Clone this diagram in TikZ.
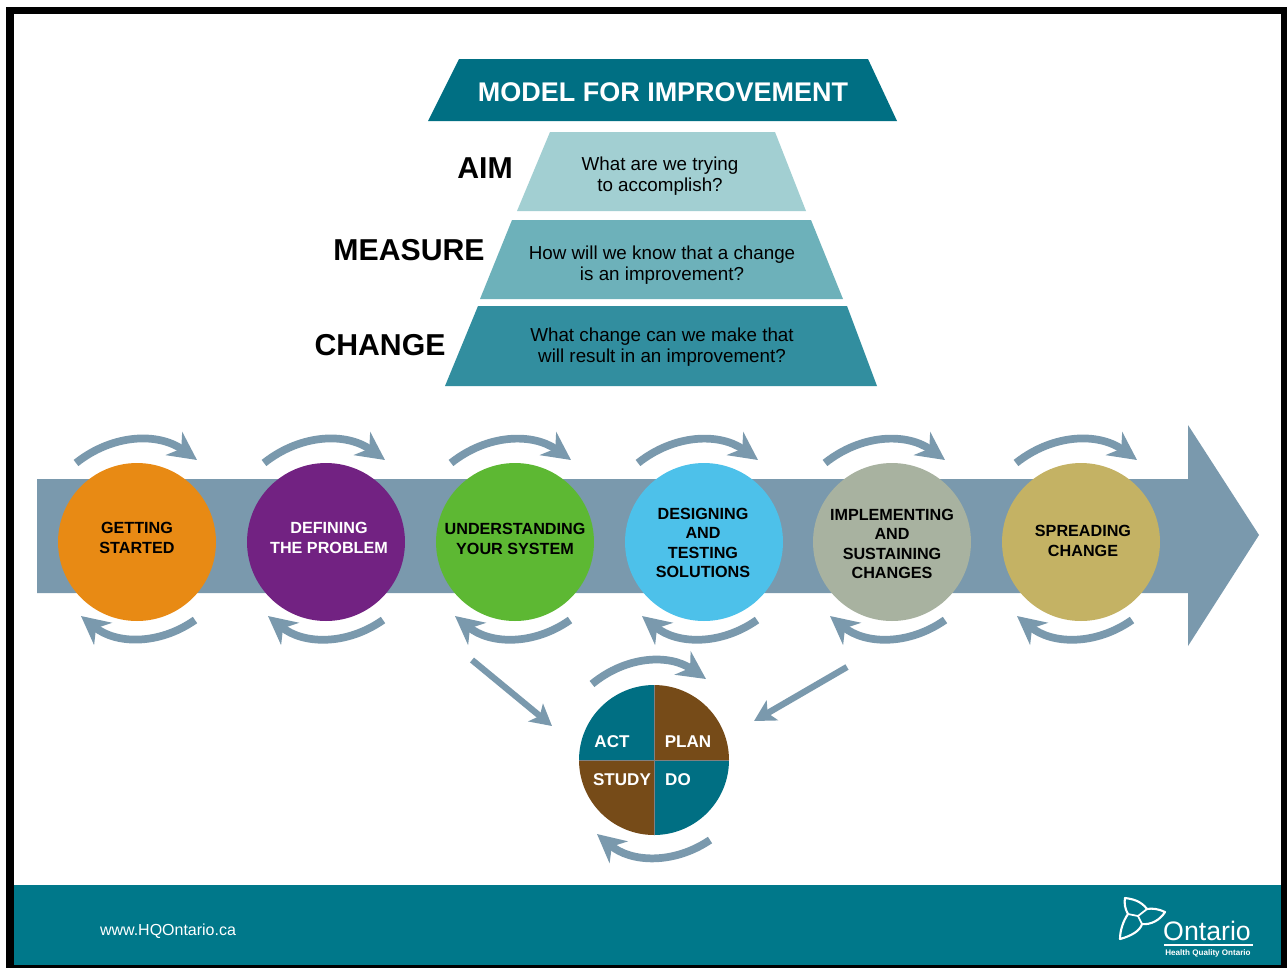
\documentclass[tikz,border=0pt]{standalone}
\usepackage{fontspec}
\setmainfont{Liberation Sans}
\usetikzlibrary{arrows.meta}
\definecolor{teal1}{HTML}{00788A}
\definecolor{teal2}{HTML}{006F83}
\definecolor{aimcol}{HTML}{A2CFD2}
\definecolor{meascol}{HTML}{6DB1BA}
\definecolor{chgcol}{HTML}{328E9F}
\definecolor{slate}{HTML}{7A99AD}
\definecolor{brown1}{HTML}{764B18}
\tikzset{
  turn/.style={slate,line width=4.4pt,-{Stealth[length=16pt,width=16pt,inset=5pt]}},
  point/.style={slate,line width=3.6pt,-{Stealth[length=12pt,width=13pt,inset=3pt]}},
  stage/.style={circle,minimum size=3.16cm,inner sep=0pt,outer sep=0pt},
  stagetext/.style={align=center,font=\fontsize{9.2}{11}\selectfont\bfseries},
  question/.style={align=center,font=\fontsize{10.7}{12}\selectfont,text=black},
  side/.style={font=\fontsize{17.2}{18}\selectfont\bfseries},
  pdsatext/.style={text=white,font=\fontsize{9.7}{12}\selectfont\bfseries}
}
\begin{document}
\begin{tikzpicture}[x=0.02cm,y=-0.02cm]
 \useasboundingbox (0,0) rectangle (1287,968);
 % frame and footer
 \fill[black] (6,7) rectangle (1287,968);
 \fill[white] (14,14) rectangle (1281,885);
 \fill[teal1] (14,885) rectangle (1281,965);
 \node[text=white,font=\fontsize{9.1}{10}\selectfont] (site) at (168,931) {www.HQOntario.ca};
 % pyramid
 \fill[teal2] (428,121)--(897,121)--(868,59)--(459,59)--cycle;
 \fill[aimcol] (517,211)--(806,211)--(775,132)--(550,132)--cycle;
 \fill[meascol] (480,299)--(843,299)--(811,220)--(512,220)--cycle;
 \fill[chgcol] (445,386)--(877,386)--(847,306)--(478,306)--cycle;
 \node[text=white,font=\fontsize{15.35}{18}\selectfont\bfseries] (title) at (663,92) {MODEL FOR IMPROVEMENT};
 \node[question] (aimq) at (660,176) {What are we trying\\to accomplish?};
 \node[question] (measq) at (662,265) {How will we know that a change\\is an improvement?};
 \node[question] (chgq) at (662,347) {What change can we make that\\will result in an improvement?};
 \node[side] (aim) at (485,168) {AIM};
 \node[side] (measure) at (409,250) {MEASURE};
 \node[side] (change) at (380,345) {CHANGE};
 % long arrow
 \fill[slate] (37,479)--(1188,479)--(1188,425)--(1259,535)--(1188,646)--(1188,593)--(37,593)--cycle;
 % stages
 \node[stage,fill={rgb,255:red,232;green,138;blue,20}] (getting) at (137,542) {};
 \node[stage,fill={rgb,255:red,114;green,34;blue,130}] (defining) at (326,542) {};
 \node[stage,fill={rgb,255:red,93;green,184;blue,51}] (understanding) at (515,542) {};
 \node[stage,fill={rgb,255:red,77;green,193;blue,234}] (designing) at (704,542) {};
 \node[stage,fill={rgb,255:red,168;green,178;blue,160}] (implementing) at (892,542) {};
 \node[stage,fill={rgb,255:red,196;green,178;blue,100}] (spreading) at (1081,542) {};
 \node[stagetext] (gettingt) at (137,538) {GETTING\\STARTED};
 \node[stagetext,text=white] (definingt) at (329,538) {DEFINING\\THE PROBLEM};
 \node[stagetext] (understandingt) at (515,539) {UNDERSTANDING\\YOUR SYSTEM};
 \node[stagetext] (designingt) at (703,543) {DESIGNING\\AND\\TESTING\\SOLUTIONS};
 \node[stagetext] (implementingt) at (892,544) {IMPLEMENTING\\AND\\SUSTAINING\\CHANGES};
 \node[stagetext] (spreadingt) at (1083,541) {SPREADING\\CHANGE};
 % turning arrows
 \foreach \n/\a/\b/\c/\d in {1/76/197/195/81,2/264/385/383/268,3/451/571/570/455,4/638/758/757/642,5/825/945/945/830,6/1016/1137/1132/1017}{
  \coordinate (topa\n) at (\a,463);
  \coordinate (topb\n) at (\b,460);
  \coordinate (bota\n) at (\c,620);
  \coordinate (botb\n) at (\d,616);
  \draw[turn] (topa\n) to[bend left=37] (topb\n);
  \draw[turn] (bota\n) to[bend left=37] (botb\n);
 }
 % pdsa
 \node[stage,minimum size=3cm] (pdsa) at (654,760) {};
 \fill[brown1] (pdsa.center)--(pdsa.north) arc[start angle=270,end angle=360,radius=75]--cycle;
 \fill[teal2] (pdsa.center)--(pdsa.east) arc[start angle=0,end angle=90,radius=75]--cycle;
 \fill[brown1] (pdsa.center)--(pdsa.south) arc[start angle=90,end angle=180,radius=75]--cycle;
 \fill[teal2] (pdsa.center)--(pdsa.west) arc[start angle=180,end angle=270,radius=75]--cycle;
 \draw[gray,very thin] (pdsa.north)--(pdsa.south);
 \draw[gray,very thin] (pdsa.west)--(pdsa.east);
 \node[pdsatext] (act) at (612,742) {ACT};
 \node[pdsatext] (plan) at (688,742) {PLAN};
 \node[pdsatext] (study) at (622,780) {STUDY};
 \node[pdsatext] (do) at (678,780) {DO};
 \coordinate (pdsaa) at (592,684);
 \coordinate (pdsab) at (706,679);
 \coordinate (pdsac) at (710,840);
 \coordinate (pdsad) at (597,834);
 \draw[turn] (pdsaa) to[bend left=37] (pdsab);
 \draw[turn] (pdsac) to[bend left=37] (pdsad);
 \coordinate (fromleft) at (472,660);
 \coordinate (toleft) at (552,726);
 \coordinate (fromright) at (847,667);
 \coordinate (toright) at (754,721);
 \draw[point] (fromleft)--(toleft);
 \draw[point] (fromright)--(toright);
 % logo
 \draw[white,line width=1.2pt,line join=round] (1125,898) .. controls (1133,899) and (1141,901) .. (1147,909)
  .. controls (1152,908) and (1159,909) .. (1165,912) .. controls (1160,920) and (1151,925) .. (1142,924)
  .. controls (1140,931) and (1131,936) .. (1120,939) .. controls (1120,931) and (1123,921) .. (1128,914)
  .. controls (1125,909) and (1124,903) .. (1125,898)--cycle;
 \draw[white,line width=1pt] (1128,914)--(1138,916)--(1147,909);
 \draw[white,line width=1pt] (1138,916)--(1142,924);
 \node[text=white,font=\fontsize{15.2}{18}\selectfont] (ontario) at (1207,931) {Ontario};
 \coordinate (rulea) at (1164,945);
 \coordinate (ruleb) at (1253,945);
 \draw[white,line width=1.5pt] (rulea)--(ruleb);
 \node[text=white,font=\fontsize{4.6}{5}\selectfont\bfseries] (hqo) at (1208,953) {Health Quality Ontario};
\end{tikzpicture}
\end{document}
